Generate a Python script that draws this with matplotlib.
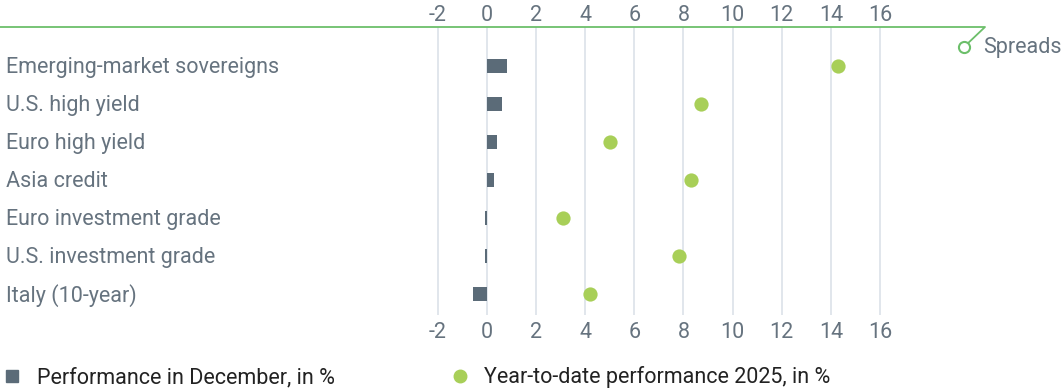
import matplotlib
matplotlib.use("Agg")
import matplotlib.pyplot as plt
from matplotlib.lines import Line2D

categories = ["Emerging-market sovereigns", "U.S. high yield", "Euro high yield",
              "Asia credit", "Euro investment grade", "U.S. investment grade",
              "Italy (10-year)"]
december = [0.8, 0.6, 0.4, 0.3, -0.1, -0.1, -0.55]
ytd_2025 = [14.3, 8.7, 5.0, 8.3, 3.1, 7.8, 4.2]
ticks = [-2, 0, 2, 4, 6, 8, 10, 12, 14, 16]
legend_labels = ["Performance in December, in %", "Year-to-date performance 2025, in %"]

plt.rcParams["font.family"] = ["Roboto", "DejaVu Sans"]
FS = 15.5

W, H = 1064, 392
fig = plt.figure(figsize=(W / 100, H / 100), dpi=100)
TXT = "#66737f"
BAR = "#5b6b78"
DOT = "#a8cf58"
GREEN = "#6cbf6a"
GRID = "#dce2e9"

top_px, bot_px = 27, 315
ax = fig.add_axes([0, 1 - bot_px / H, 1, (bot_px - top_px) / H])
x0_px, ppu = 487, 24.56
ax.set_xlim(-x0_px / ppu, (W - x0_px) / ppu)
row0, step = 66, 38
ax.set_ylim((bot_px - row0) / step, -(row0 - top_px) / step)
for s in ax.spines.values():
    s.set_visible(False)
ax.set_xticks(ticks)
ax.set_xticklabels([str(t) for t in ticks])
ax.tick_params(axis="x", length=0, labelsize=FS, labelcolor=TXT, pad=5)
ax.set_yticks([])
ax.grid(axis="x", color=GRID, linewidth=1.2)
ax.set_axisbelow(True)

sec = ax.secondary_xaxis("top")
sec.set_xticks(ticks)
sec.set_xticklabels([str(t) for t in ticks])
sec.tick_params(axis="x", length=0, labelsize=FS, labelcolor=TXT, pad=1)
for s in sec.spines.values():
    s.set_visible(False)

ypos = list(range(len(categories)))
ax.barh(ypos, december, height=0.36, color=BAR, zorder=3)
ax.scatter(ytd_2025, ypos, s=105, color=DOT, zorder=4, linewidths=0)

for i, c in enumerate(categories):
    ax.text(6 / W, i - 0.035, c, transform=ax.get_yaxis_transform(), ha="left",
            va="center_baseline", fontsize=FS, color=TXT)

# green top line with "Spreads" hook
fig.add_artist(Line2D([0, 985 / W, 965 / W], [1 - 27 / H, 1 - 27 / H, 1 - 46 / H],
                      color=GREEN, linewidth=1.3, transform=fig.transFigure))
fig.add_artist(Line2D([964 / W], [1 - 47 / H], marker="o", markersize=8,
                      markerfacecolor="white", markeredgecolor=GREEN,
                      markeredgewidth=1.5, transform=fig.transFigure))
fig.text(983 / W, 1 - 45 / H, "Spreads", ha="left", va="center_baseline", fontsize=FS, color=TXT)

# legend
fig.add_artist(Line2D([12 / W], [1 - 376 / H], marker="s", markersize=9,
                      color=BAR, linewidth=0, transform=fig.transFigure))
fig.text(37 / W, 1 - 375 / H, legend_labels[0], ha="left", va="center_baseline", fontsize=FS, color="#222222")
fig.add_artist(Line2D([460 / W], [1 - 376 / H], marker="o", markersize=9,
                      color=DOT, linewidth=0, transform=fig.transFigure))
fig.text(484 / W, 1 - 375 / H, legend_labels[1], ha="left", va="center_baseline", fontsize=FS, color="#222222")

fig.savefig("out.png", dpi=100)
